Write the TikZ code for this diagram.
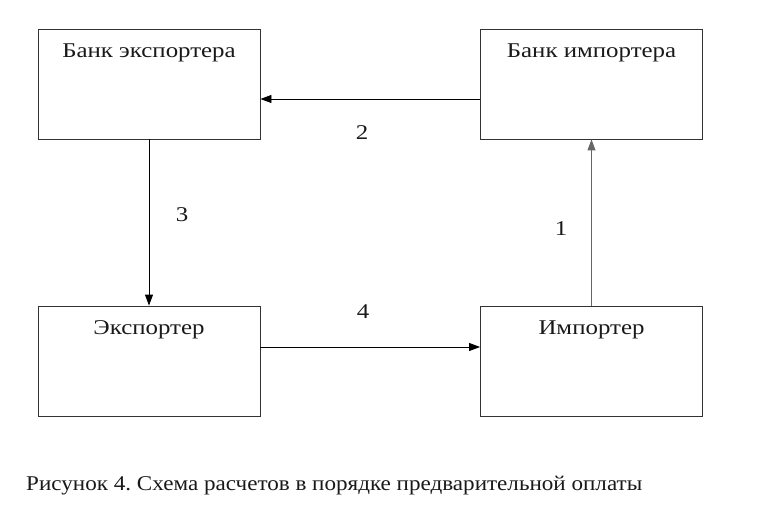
\documentclass[tikz,border=0pt]{standalone}
\usepackage{fontspec}
\setmainfont{Liberation Serif}
\newfontfamily\boxfont{Liberation Serif}[FakeStretch=1.185]
\newfontfamily\capfont{Liberation Serif}[FakeStretch=1.1]
\usetikzlibrary{arrows.meta}
\frenchspacing
\begin{document}
\begin{tikzpicture}[x=1pt,y=-1pt,
  box/.style={draw=black!80,line width=0.9pt,minimum width=222pt,minimum height=110pt,inner sep=0pt},
  boxtext/.style={anchor=base,inner sep=0pt,font=\boxfont\fontsize{21}{24}\selectfont,text=black!90},
  num/.style={font=\boxfont\fontsize{21}{24}\selectfont,text=black!90},
  arr/.style={line width=0.9pt,-{Triangle[length=11pt,width=8pt]}}]
\useasboundingbox (0,0) rectangle (759,510);
\node[box] (be) at (149,84) {};
\node[box] (bi) at (591.5,84) {};
\node[box] (ex) at (149,361) {};
\node[box] (im) at (591.5,361) {};
\node[boxtext] (tbe) at ([yshift=-28.5pt]be.north) {Банк экспортера};
\node[boxtext] (tbi) at ([yshift=-28.5pt]bi.north) {Банк импортера};
\node[boxtext] (tex) at ([yshift=-28.5pt]ex.north) {Экспортер};
\node[boxtext] (tim) at ([yshift=-28.5pt]im.north) {Импортер};
\draw[arr] ([yshift=-15pt]bi.west) -- ([yshift=-15pt]be.east);
\draw[arr] (be.south) -- (ex.north);
\draw[arr,draw=black!60] (im.north) -- (bi.south);
\draw[arr] ([yshift=14pt]ex.east) -- ([yshift=14pt]im.west);
\node[num] (n2) at (362,133) {2};
\node[num] (n3) at (182,215) {3};
\node[num] (n1) at (561,229) {1};
\node[num] (n4) at (363,312) {4};
\node[anchor=base west,inner sep=0pt,font=\capfont\fontsize{21}{24}\selectfont,text=black!90] (cap) at (26,490.5) {Рисунок 4. Схема расчетов в порядке предварительной оплаты};
\end{tikzpicture}
\end{document}
